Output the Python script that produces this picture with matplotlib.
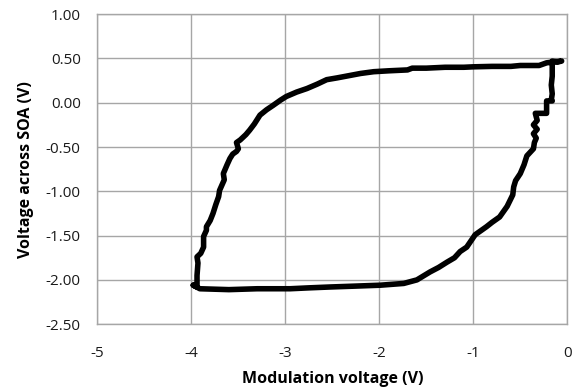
import matplotlib
matplotlib.use("Agg")
import matplotlib.pyplot as plt

# Hysteresis loop: modulation voltage (V) vs voltage across SOA (V)
mod_voltage = [
    -3.98, -3.94, -3.94, -3.93, -3.94, -3.90, -3.87, -3.87, -3.84, -3.84,
    -3.80, -3.77, -3.74, -3.71, -3.70, -3.65, -3.66, -3.62, -3.59, -3.56,
    -3.52, -3.50, -3.52, -3.48, -3.42, -3.38, -3.33, -3.27, -3.20, -3.13,
    -3.05, -2.99, -2.88, -2.77, -2.66, -2.56, -2.45, -2.35, -2.20, -2.06,
    -1.90, -1.70, -1.65, -1.50, -1.30, -1.10, -1.00, -0.80, -0.60, -0.50,
    -0.30, -0.22, -0.15, -0.06, -0.10, -0.16,
    -0.16, -0.17, -0.16, -0.17, -0.16, -0.22, -0.22, -0.34, -0.32, -0.36,
    -0.32, -0.36, -0.33, -0.35, -0.36, -0.43, -0.46, -0.50, -0.55, -0.57,
    -0.58, -0.64, -0.72, -0.80, -0.86, -0.98, -1.07, -1.14, -1.20, -1.28,
    -1.37, -1.46, -1.60, -1.74, -1.99, -2.25, -2.52, -2.75, -2.95, -3.30,
    -3.60, -3.91, -3.98,
]
soa_voltage = [
    -2.06, -2.08, -1.95, -1.81, -1.74, -1.70, -1.63, -1.51, -1.44, -1.40,
    -1.33, -1.25, -1.15, -1.06, -0.99, -0.87, -0.80, -0.70, -0.63, -0.58,
    -0.55, -0.52, -0.45, -0.42, -0.36, -0.31, -0.24, -0.14, -0.08, -0.03,
    0.03, 0.07, 0.12, 0.16, 0.21, 0.26, 0.28, 0.30, 0.33, 0.35,
    0.36, 0.37, 0.39, 0.39, 0.40, 0.40, 0.405, 0.41, 0.41, 0.42,
    0.42, 0.45, 0.46, 0.47, 0.46, 0.47,
    0.30, 0.20, 0.10, 0.03, 0.02, 0.02, -0.12, -0.12, -0.20, -0.25,
    -0.30, -0.35, -0.40, -0.45, -0.52, -0.60, -0.70, -0.80, -0.88, -0.95,
    -1.04, -1.17, -1.29, -1.35, -1.40, -1.49, -1.63, -1.68, -1.75, -1.80,
    -1.86, -1.91, -2.00, -2.04, -2.06, -2.07, -2.08, -2.09, -2.10, -2.10,
    -2.11, -2.10, -2.06,
]

x_ticks = [-5, -4, -3, -2, -1, 0]
x_tick_labels = ["-5", "-4", "-3", "-2", "-1", "0"]
y_ticks = [-2.5, -2.0, -1.5, -1.0, -0.5, 0.0, 0.5, 1.0]
y_tick_labels = ["-2.50", "-2.00", "-1.50", "-1.00", "-0.50", "0.00", "0.50", "1.00"]

plt.rcParams['font.family'] = ['Open Sans', 'DejaVu Sans']

fig = plt.figure(figsize=(5.73, 3.92), dpi=100)
ax = fig.add_axes([0.170, 0.173, 0.820, 0.791])

ax.plot(mod_voltage, soa_voltage, color='black', linewidth=4.0,
        solid_joinstyle='round', solid_capstyle='round')

ax.set_xlim(-5, 0)
ax.set_ylim(-2.5, 1.0)
ax.set_xticks(x_ticks)
ax.set_xticklabels(x_tick_labels)
ax.set_yticks(y_ticks)
ax.set_yticklabels(y_tick_labels)
ax.tick_params(length=0, labelsize=11, colors='#1a1a1a')
ax.tick_params(axis='x', pad=15.5)
ax.tick_params(axis='y', pad=12)
ax.grid(True, color='#a6a6a6', linewidth=1.0)
ax.set_axisbelow(True)
for s in ax.spines.values():
    s.set_color('#a6a6a6')
    s.set_linewidth(1.0)

ax.set_xlabel('Modulation voltage (V)', fontsize=11.5, fontweight='bold')
ax.set_ylabel('Voltage across SOA (V)', fontsize=11.5, fontweight='bold')
ax.xaxis.set_label_coords(0.5, -0.152)
ax.yaxis.set_label_coords(-0.136, 0.5)

fig.savefig('out.png', dpi=100)
